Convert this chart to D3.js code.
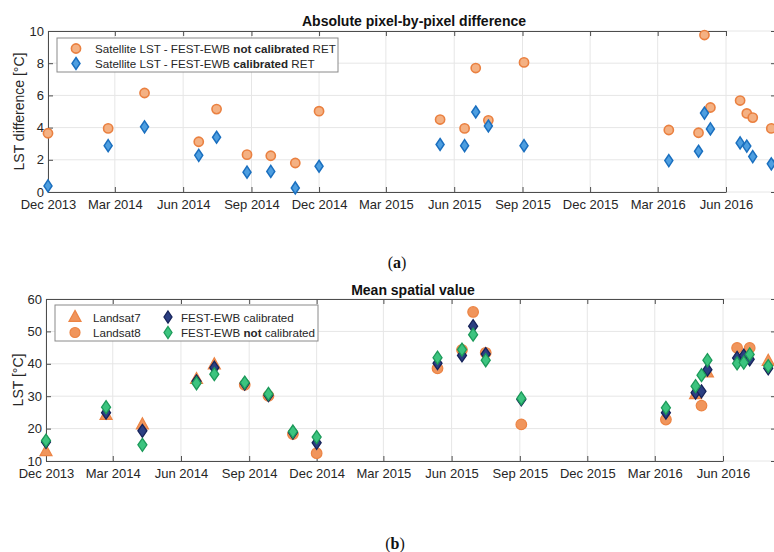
<!DOCTYPE html>
<html>
<head>
<meta charset="utf-8">
<script src="https://cdn.jsdelivr.net/npm/d3@7/dist/d3.min.js"></script>
<style>
  html, body { margin: 0; padding: 0; background: #fff; }
  svg { display: block; }
  text { font-family: "Liberation Sans", Arial, sans-serif; }
</style>
</head>
<body>
<svg id="chart" width="774" height="552"></svg>
<script>
// ---------------- DATA ----------------
const dates = ["2013-12-01","2014-02-20","2014-04-10","2014-06-22","2014-07-16","2014-08-26",
  "2014-09-27","2014-10-30","2014-12-01","2015-05-13","2015-06-15","2015-06-30","2015-07-17",
  "2015-09-03","2016-03-16","2016-04-25","2016-05-03","2016-05-11","2016-06-20","2016-06-29",
  "2016-07-07","2016-08-01"];

// (a) absolute pixel-by-pixel difference
const diffNotCalibrated = [3.65,3.95,6.15,3.12,5.15,2.32,2.25,1.8,5.02,4.5,3.95,7.7,4.45,8.05,
  3.85,3.68,9.75,5.25,5.68,4.88,4.62,3.95];
const diffCalibrated = [0.38,2.88,4.05,2.28,3.4,1.23,1.28,0.25,1.6,2.95,2.88,4.97,4.1,2.88,
  1.95,2.53,4.9,3.92,3.05,2.85,2.2,1.75];

// (b) mean spatial value (null = not available for that sensor)
const landsat7 = [13.0,24.2,21.3,35.3,39.8,null,null,null,null,null,null,null,null,null,
  null,30.6,null,37.3,null,null,null,40.9];
const landsat8 = [null,null,null,null,null,33.5,30.1,18.3,12.4,38.6,44.3,56.0,43.4,21.3,
  22.8,null,27.1,null,44.9,41.8,44.9,null];
const festCalibrated = [15.9,24.9,19.3,34.6,38.8,33.9,30.3,18.8,15.6,40.2,42.6,51.6,43.0,29.0,
  24.9,31.1,31.5,38.2,41.8,42.5,41.4,38.6];
const festNotCalibrated = [16.3,26.6,15.0,34.0,36.8,34.2,30.7,19.1,17.4,41.9,44.4,49.0,41.1,29.3,
  26.4,33.1,36.5,41.1,40.1,40.4,42.9,39.3];

const tickDates = ["2013-12-01","2014-03-01","2014-06-01","2014-09-01","2014-12-01","2015-03-01",
  "2015-06-01","2015-09-01","2015-12-01","2016-03-01","2016-06-01"];
const yTicksA = [0,2,4,6,8,10];
const yTicksB = [10,20,30,40,50,60];

// ---------------- DRAW ----------------
const parse = d3.timeParse("%Y-%m-%d");
const fmt = d3.timeFormat("%b %Y");
const svg = d3.select("#chart");
const axisColor = "#4d4d4d", gridColor = "#e6e6e6", textColor = "#262626";
const legendFont = "11.6px";

function panel(cfg) {
  const g = svg.append("g");
  const x = d3.scaleTime().domain([parse(tickDates[0]), parse(tickDates[tickDates.length-1])])
    .range([cfg.x0, cfg.x1]);
  const y = d3.scaleLinear().domain(cfg.yDomain).range([cfg.yBottom, cfg.yTop]);
  const left = cfg.x0, right = cfg.right, top = cfg.yTop, bottom = cfg.yBottom;

  // grid
  g.append("g").selectAll("line").data(tickDates).join("line")
    .attr("x1", d => x(parse(d))).attr("x2", d => x(parse(d)))
    .attr("y1", top).attr("y2", bottom).attr("stroke", gridColor).attr("stroke-width", 1);
  g.append("g").selectAll("line").data(cfg.yTicks).join("line")
    .attr("x1", left).attr("x2", right)
    .attr("y1", d => y(d)).attr("y2", d => y(d)).attr("stroke", gridColor).attr("stroke-width", 1);

  // axes
  const xb = g.append("g").attr("transform", `translate(0,${bottom})`)
    .call(d3.axisBottom(x).tickValues(tickDates.map(parse)).tickFormat(fmt).tickSizeInner(-5).tickSizeOuter(0).tickPadding(8));
  const xt = g.append("g").attr("transform", `translate(0,${top})`)
    .call(d3.axisTop(x).tickValues(tickDates.map(parse)).tickFormat("").tickSizeInner(-5).tickSizeOuter(0));
  const yl = g.append("g").attr("transform", `translate(${left},0)`)
    .call(d3.axisLeft(y).tickValues(cfg.yTicks).tickSizeInner(-5).tickSizeOuter(0).tickPadding(4));
  const yr = g.append("g").attr("transform", `translate(${right},0)`)
    .call(d3.axisRight(y).tickValues(cfg.yTicks).tickFormat("").tickSizeInner(-5).tickSizeOuter(0));
  [xb, xt, yl, yr].forEach(a => {
    a.select(".domain").attr("stroke", axisColor);
    a.selectAll(".tick line").attr("stroke", axisColor);
    a.selectAll("text").attr("fill", textColor).style("font-size", "13px")
      .style("font-family", '"Liberation Sans", Arial, sans-serif');
  });

  // title
  g.append("text").attr("x", (left + right) / 2 + 2).attr("y", cfg.titleY)
    .attr("text-anchor", "middle").attr("font-weight", "bold").attr("font-size", "14px")
    .attr("fill", "#111").text(cfg.title);
  // y label
  g.append("text").attr("transform", `translate(${cfg.ylabelX},${(top + bottom) / 2}) rotate(-90)`)
    .attr("text-anchor", "middle").attr("font-size", "14px").attr("fill", textColor).text(cfg.ylabel);
  // caption
  const cap = g.append("text").attr("x", cfg.capX).attr("y", cfg.capY).attr("text-anchor", "middle")
    .attr("font-size", "16px").attr("fill", "#111")
    .style("font-family", '"Liberation Serif", "DejaVu Serif", serif');
  cap.append("tspan").text("(");
  cap.append("tspan").attr("font-weight", "bold").text(cfg.cap);
  cap.append("tspan").text(")");
  return { g, x, y };
}

const diamond = (w, h) => `M0,${-h/2}L${w/2},0L0,${h/2}L${-w/2},0Z`;
const triangle = (w, h) => `M0,${-h*0.6}L${w/2},${h*0.4}L${-w/2},${h*0.4}Z`;

// ----- Panel (a)
const A = panel({ x0: 48, x1: 726, right: 776, yTop: 31, yBottom: 192, yDomain: [0, 10],
  yTicks: yTicksA, title: "Absolute pixel-by-pixel difference", titleY: 26,
  ylabel: "LST difference [°C]", ylabelX: 24, cap: "a", capX: 397, capY: 268 });

const orangeA = { fill: "#f4b183", stroke: "#ea8040" };
const blueA = { fill: "#4d9ee0", stroke: "#1a6fbf" };

A.g.append("g").selectAll("circle").data(dates.map((d, i) => [d, diffNotCalibrated[i]])).join("circle")
  .attr("cx", d => A.x(parse(d[0]))).attr("cy", d => A.y(d[1])).attr("r", 4.6)
  .attr("fill", orangeA.fill).attr("stroke", orangeA.stroke).attr("stroke-width", 1.6);
A.g.append("g").selectAll("path").data(dates.map((d, i) => [d, diffCalibrated[i]])).join("path")
  .attr("transform", d => `translate(${A.x(parse(d[0]))},${A.y(d[1])})`).attr("d", diamond(8, 12))
  .attr("fill", blueA.fill).attr("stroke", blueA.stroke).attr("stroke-width", 1.5);

// legend (a)
const legA = A.g.append("g");
legA.append("rect").attr("x", 57).attr("y", 38).attr("width", 281).attr("height", 34)
  .attr("fill", "#fff").attr("stroke", "#8a8a8a").attr("stroke-width", 1);
legA.append("circle").attr("cx", 76).attr("cy", 48.5).attr("r", 4.6)
  .attr("fill", orangeA.fill).attr("stroke", orangeA.stroke).attr("stroke-width", 1.6);
legA.append("path").attr("transform", "translate(76,63.5)").attr("d", diamond(8, 12))
  .attr("fill", blueA.fill).attr("stroke", blueA.stroke).attr("stroke-width", 1.5);
const la1 = legA.append("text").attr("x", 95).attr("y", 53).attr("font-size", legendFont).attr("fill", textColor);
la1.append("tspan").text("Satellite LST - FEST-EWB ");
la1.append("tspan").attr("font-weight", "bold").text("not calibrated");
la1.append("tspan").text(" RET");
const la2 = legA.append("text").attr("x", 95).attr("y", 68).attr("font-size", legendFont).attr("fill", textColor);
la2.append("tspan").text("Satellite LST - FEST-EWB ");
la2.append("tspan").attr("font-weight", "bold").text("calibrated");
la2.append("tspan").text(" RET");

// ----- Panel (b)
const B = panel({ x0: 46, x1: 723, right: 776, yTop: 299, yBottom: 461, yDomain: [10, 60],
  yTicks: yTicksB, title: "Mean spatial value", titleY: 295,
  ylabel: "LST [°C]", ylabelX: 23, cap: "b", capX: 395, capY: 549 });

const orangeB = { fill: "#f0955c", stroke: "#ec8444" };
const navyB = { fill: "#2b3f82", stroke: "#16235a" };
const greenB = { fill: "#3cc47f", stroke: "#1d9a5a" };

B.g.append("g").selectAll("path").data(dates.map((d, i) => [d, landsat7[i]]).filter(d => d[1] != null)).join("path")
  .attr("transform", d => `translate(${B.x(parse(d[0]))},${B.y(d[1])})`).attr("d", triangle(12, 11))
  .attr("fill", orangeB.fill).attr("stroke", orangeB.stroke).attr("stroke-width", 1.2);
B.g.append("g").selectAll("circle").data(dates.map((d, i) => [d, landsat8[i]]).filter(d => d[1] != null)).join("circle")
  .attr("cx", d => B.x(parse(d[0]))).attr("cy", d => B.y(d[1])).attr("r", 5.3)
  .attr("fill", orangeB.fill).attr("stroke", orangeB.stroke).attr("stroke-width", 1.2);
B.g.append("g").selectAll("path").data(dates.map((d, i) => [d, festCalibrated[i]])).join("path")
  .attr("transform", d => `translate(${B.x(parse(d[0]))},${B.y(d[1])})`).attr("d", diamond(9, 13))
  .attr("fill", navyB.fill).attr("stroke", navyB.stroke).attr("stroke-width", 1.3);
B.g.append("g").selectAll("path").data(dates.map((d, i) => [d, festNotCalibrated[i]])).join("path")
  .attr("transform", d => `translate(${B.x(parse(d[0]))},${B.y(d[1])})`).attr("d", diamond(9, 13))
  .attr("fill", greenB.fill).attr("stroke", greenB.stroke).attr("stroke-width", 1.3);

// legend (b)
const legB = B.g.append("g");
legB.append("rect").attr("x", 55).attr("y", 305).attr("width", 263).attr("height", 36)
  .attr("fill", "#fff").attr("stroke", "#8a8a8a").attr("stroke-width", 1);
legB.append("path").attr("transform", "translate(75,317)").attr("d", triangle(12, 11))
  .attr("fill", orangeB.fill).attr("stroke", orangeB.stroke).attr("stroke-width", 1.2);
legB.append("circle").attr("cx", 75).attr("cy", 332.5).attr("r", 5)
  .attr("fill", orangeB.fill).attr("stroke", orangeB.stroke).attr("stroke-width", 1.2);
legB.append("path").attr("transform", "translate(168,317)").attr("d", diamond(8, 12))
  .attr("fill", navyB.fill).attr("stroke", navyB.stroke).attr("stroke-width", 1.3);
legB.append("path").attr("transform", "translate(168,332.5)").attr("d", diamond(8, 12))
  .attr("fill", greenB.fill).attr("stroke", greenB.stroke).attr("stroke-width", 1.3);
legB.append("text").attr("x", 93).attr("y", 321.5).attr("font-size", legendFont).attr("fill", textColor).text("Landsat7");
legB.append("text").attr("x", 93).attr("y", 337).attr("font-size", legendFont).attr("fill", textColor).text("Landsat8");
legB.append("text").attr("x", 181).attr("y", 321.5).attr("font-size", legendFont).attr("fill", textColor).text("FEST-EWB calibrated");
const lb4 = legB.append("text").attr("x", 181).attr("y", 337).attr("font-size", legendFont).attr("fill", textColor);
lb4.append("tspan").text("FEST-EWB ");
lb4.append("tspan").attr("font-weight", "bold").text("not");
lb4.append("tspan").text(" calibrated");
</script>
</body>
</html>
